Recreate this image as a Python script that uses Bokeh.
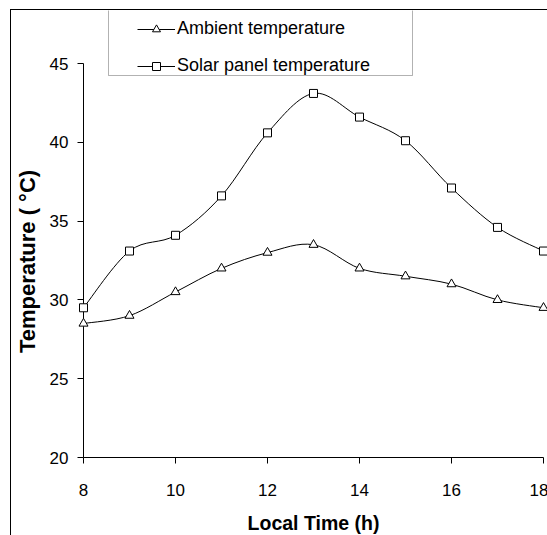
from bokeh.plotting import figure
from bokeh.models import Legend, LegendItem, BoxAnnotation, Range1d, FixedTicker, ColumnDataSource
from bokeh.embed import file_html
from bokeh.resources import INLINE

hours = [8, 9, 10, 11, 12, 13, 14, 15, 16, 17, 18]
ambient = [28.5, 29.0, 30.5, 32.0, 33.0, 33.5, 32.0, 31.5, 31.0, 30.0, 29.5]
panel = [29.5, 33.1, 34.1, 36.6, 40.6, 43.1, 41.6, 40.1, 37.1, 34.6, 33.1]
x_ticks = [8, 10, 12, 14, 16, 18]
y_ticks = [20, 25, 30, 35, 40, 45]
series_names = ["Ambient temperature", "Solar panel temperature"]
x_title = "Local Time (h)"
y_title = "Temperature ( \u00b0C)"


def smooth_segments(xs, ys):
    """Bezier segments through the data points (spreadsheet-style smoothed line)."""
    n = len(xs)
    d = dict(x0=[], y0=[], x1=[], y1=[], cx0=[], cy0=[], cx1=[], cy1=[])
    for i in range(n - 1):
        im = max(i - 1, 0)
        ip2 = min(i + 2, n - 1)
        d["x0"].append(xs[i]); d["y0"].append(ys[i])
        d["x1"].append(xs[i + 1]); d["y1"].append(ys[i + 1])
        d["cx0"].append(xs[i] + (xs[i + 1] - xs[im]) / 6.0)
        d["cy0"].append(ys[i] + (ys[i + 1] - ys[im]) / 6.0)
        d["cx1"].append(xs[i + 1] - (xs[ip2] - xs[i]) / 6.0)
        d["cy1"].append(ys[i + 1] - (ys[ip2] - ys[i]) / 6.0)
    return ColumnDataSource(d)


# layout (pixels)
FRAME_W, FRAME_H = 460, 447
AXIS_PX = 394          # pixel length of the 20..45 span of the y axis
y_top = y_ticks[0] + FRAME_H * (y_ticks[-1] - y_ticks[0]) / AXIS_PX

p = figure(frame_width=FRAME_W, frame_height=FRAME_H,
           x_range=Range1d(x_ticks[0], x_ticks[-1]), y_range=Range1d(y_ticks[0], y_top),
           output_backend="svg", toolbar_location=None,
           min_border_left=71, min_border_right=5,
           min_border_top=0, min_border_bottom=78)
p.styles = {"margin-left": "10px", "margin-top": "9px",
            "border-left": "1px solid black", "border-top": "1px solid black"}

p.grid.visible = False
p.outline_line_color = None
p.background_fill_color = "white"
p.border_fill_color = "white"

for ax in (p.xaxis[0], p.yaxis[0]):
    ax.axis_line_color = "black"
    ax.axis_line_width = 1
    ax.major_tick_line_color = "black"
    ax.major_tick_out = 6
    ax.major_tick_in = 0
    ax.minor_tick_line_color = None
    ax.major_label_text_font = "Liberation Sans"
    ax.major_label_text_font_size = "17px"
    ax.major_label_text_color = "black"
    ax.axis_label_text_font = "Liberation Sans"
    ax.axis_label_text_font_style = "bold"
    ax.axis_label_text_color = "black"

p.xaxis.ticker = FixedTicker(ticks=x_ticks)
p.yaxis.ticker = FixedTicker(ticks=y_ticks)
p.yaxis.bounds = (y_ticks[0], y_ticks[-1])
p.xaxis.axis_label = x_title
# trailing no-break spaces centre the visible title on the 20..45 part of the axis
p.yaxis.axis_label = y_title + "\u00a0" * 9
p.xaxis.axis_label_text_font_size = "19.5px"
p.yaxis.axis_label_text_font_size = "22px"
p.xaxis.major_label_standoff = 20
p.xaxis.axis_label_standoff = 13
p.yaxis.major_label_standoff = 9
p.yaxis.axis_label_standoff = 7

# legend box (frame-relative screen units)
legbox = BoxAnnotation(left=25, right=329, top=FRAME_H + 2, bottom=FRAME_H - 65,
                       left_units="screen", right_units="screen",
                       top_units="screen", bottom_units="screen",
                       fill_color="white", fill_alpha=1, line_color="black", line_width=1)
p.add_layout(legbox)

items = []
for ys, marker, size, name in ((ambient, "triangle", 9, series_names[0]),
                               (panel, "square", 8, series_names[1])):
    p.bezier(x0="x0", y0="y0", x1="x1", y1="y1", cx0="cx0", cy0="cy0",
             cx1="cx1", cy1="cy1", source=smooth_segments(hours, ys),
             line_color="black", line_width=1)
    sr = p.scatter(hours, ys, marker=marker, size=size,
                   fill_color="white", line_color="black", line_width=1, level="overlay")
    # single-point line: draws nothing in the plot, supplies the legend's line sample
    lr = p.line(hours[:1], ys[:1], line_color="black", line_width=1)
    items.append(LegendItem(label=name, renderers=[lr, sr]))

legend = Legend(items=items, location=(54, FRAME_H - 66), padding=0, margin=0,
                border_line_color=None, background_fill_alpha=0,
                glyph_width=38, glyph_height=20, label_height=20,
                label_standoff=2, spacing=16,
                label_text_font="Liberation Sans", label_text_font_size="18px",
                label_text_color="black")
p.add_layout(legend)

open("out.html", "w").write(file_html(p, INLINE, "chart"))
